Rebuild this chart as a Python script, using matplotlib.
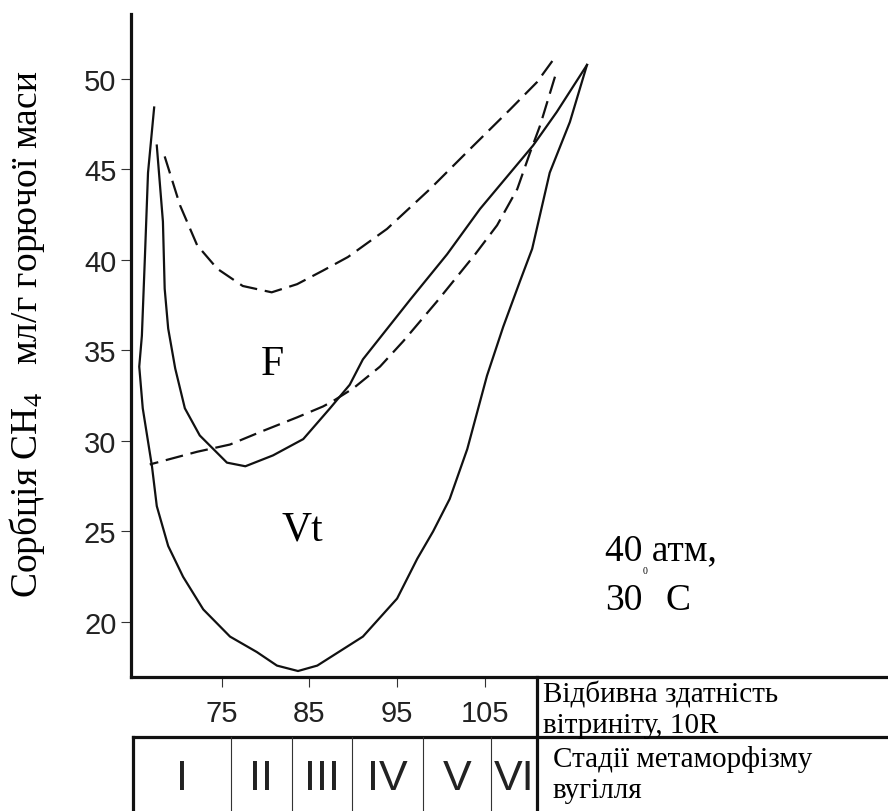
import matplotlib
matplotlib.use("Agg")
import matplotlib.pyplot as plt
from matplotlib import transforms

# outer solid curve (Vt region boundary), reflectance 10R vs sorption
vt_x = [67.3, 66.6, 66.25, 65.9, 65.6, 66.0, 67.05, 67.6, 68.9, 70.6, 72.9, 75.95,
        79.0, 81.3, 83.7, 85.9, 91.1, 95.0, 97.3, 99.1, 101.0, 103.0, 105.25,
        107.1, 109.0, 110.4, 112.4, 114.7, 116.65]
vt_y = [48.4, 44.8, 40.2, 35.8, 34.1, 31.8, 28.6, 26.4, 24.2, 22.5, 20.7, 19.2,
        18.35, 17.6, 17.3, 17.6, 19.2, 21.3, 23.5, 25.0, 26.8, 29.55, 33.6,
        36.3, 38.8, 40.6, 44.8, 47.6, 50.75]

# inner solid curve (F)
f_x = [67.6, 68.3, 68.5, 68.9, 69.7, 70.8, 72.5, 75.6, 77.7, 80.85, 84.3, 87.35,
       89.6, 91.1, 96.5, 100.7, 104.45, 110.5, 113.2, 116.65]
f_y = [46.3, 42.1, 38.4, 36.2, 34.0, 31.8, 30.3, 28.8, 28.6, 29.2, 30.1, 31.8,
       33.1, 34.5, 37.8, 40.3, 42.8, 46.3, 48.15, 50.75]

# upper dashed curve
up_x = [68.5, 70.25, 72.2, 74.5, 77.4, 80.7, 83.6, 86.55, 89.4, 93.85, 98.75,
        103.3, 107.9, 110.95, 112.9]
up_y = [45.7, 43.0, 40.8, 39.5, 38.55, 38.2, 38.65, 39.4, 40.15, 41.7, 43.9,
        46.1, 48.3, 49.8, 51.1]

# lower dashed curve
lo_x = [113.0, 111.3, 110.15, 108.7, 106.4, 103.9, 99.55, 95.7, 93.05, 90.0,
        87.7, 86.55, 83.6, 79.7, 75.95, 72.2, 66.8]
lo_y = [50.1, 47.4, 45.9, 43.9, 41.9, 40.3, 37.7, 35.5, 34.1, 32.9, 32.2, 31.9,
        31.3, 30.55, 29.8, 29.4, 28.7]

x_ticks = [75, 85, 95, 105]
y_ticks = [20, 25, 30, 35, 40, 45, 50]

stage_bounds = [64.9, 76.05, 83.0, 89.85, 97.95, 105.7, 110.95]
stage_labels = ["I", "II", "III", "IV", "V", "VI"]

W, H = 888, 812
fig = plt.figure(figsize=(W / 100, H / 100), dpi=100)
ax = fig.add_axes([131 / W, 1 - 678 / H, 757 / W, 663 / H])

ax.plot(vt_x, vt_y, color="#111111", lw=1.6)
ax.plot(f_x, f_y, color="#111111", lw=1.6)
ax.plot(up_x, up_y, color="#111111", lw=1.6, dashes=(8, 3.5))
ax.plot(lo_x, lo_y, color="#111111", lw=1.6, dashes=(8, 3.5))

ax.set_xlim(64.66, 150.97)
ax.set_ylim(16.97, 53.56)
for s in ["top", "right"]:
    ax.spines[s].set_visible(False)
for s in ["left", "bottom"]:
    ax.spines[s].set_linewidth(2.3)
    ax.spines[s].set_color("#111111")

ax.set_xticks(x_ticks)
ax.set_yticks(y_ticks)
ax.tick_params(axis="both", direction="out", length=7.5, width=0.8, color="#333333")
ax.tick_params(axis="y", pad=3)
ax.tick_params(axis="x", pad=8)
for lab in ax.get_yticklabels() + ax.get_xticklabels():
    lab.set_fontfamily("Liberation Sans")
    lab.set_fontsize(21)
    lab.set_color("#222222")

serif = "Liberation Serif"
ax.text(80.74, 34.24, "F", fontsize=30, family=serif, ha="center", va="center")
ax.text(84.15, 25.14, "Vt", fontsize=30, family=serif, ha="center", va="center")
ax.text(118.7, 23.48, "40 атм,", fontsize=27, family=serif, va="baseline")
ax.text(118.7, 20.72, "30", fontsize=27, family=serif, va="baseline")
ax.text(123.25, 22.82, "0", fontsize=7, family=serif, ha="center", va="center")
ax.text(125.55, 20.72, "C", fontsize=27, family=serif, va="baseline")

# y axis label
plt.rcParams["mathtext.fontset"] = "custom"
plt.rcParams["mathtext.rm"] = serif
plt.rcParams["mathtext.it"] = serif
fig.text(27 / W, 1 - 334 / H, "Сорбція CH$_{\\mathrm{4}}$   мл/г горючої маси",
         rotation=90, fontsize=27, family=serif, ha="center", va="center")

# table under the axis
blend = transforms.blended_transform_factory(ax.transData, fig.transFigure)
fig.add_artist(plt.Line2D([133 / W, 1], [1 - 738 / H] * 2, color="#111111",
                          lw=2.3, transform=fig.transFigure))
for i, b in enumerate(stage_bounds):
    if i == len(stage_bounds) - 1:
        fig.add_artist(plt.Line2D([b, b], [0, 1 - 678 / H], color="#111111",
                                  lw=2.3, transform=blend))
    elif i == 0:
        fig.add_artist(plt.Line2D([b, b], [0, 1 - 738 / H], color="#111111",
                                  lw=2.3, transform=blend))
    else:
        fig.add_artist(plt.Line2D([b, b], [0, 1 - 738 / H], color="#333333",
                                  lw=0.8, transform=blend))
for i, lab in enumerate(stage_labels):
    mid = (stage_bounds[i] + stage_bounds[i + 1]) / 2
    fig.text(mid, 1 - 779 / H, lab, transform=blend, ha="center", va="center",
             fontsize=31, family="Liberation Sans", color="#222222")

fig.text(543 / W, 1 - 703 / H, "Відбивна здатність", fontsize=21, family=serif,
         va="baseline")
fig.text(543 / W, 1 - 733 / H, "вітриніту, 10R", fontsize=21, family=serif,
         va="baseline")
fig.text(553 / W, 1 - 767 / H, "Стадії метаморфізму", fontsize=21, family=serif,
         va="baseline")
fig.text(553 / W, 1 - 798 / H, "вугілля", fontsize=21, family=serif, va="baseline")

fig.savefig("out.png", dpi=100)
